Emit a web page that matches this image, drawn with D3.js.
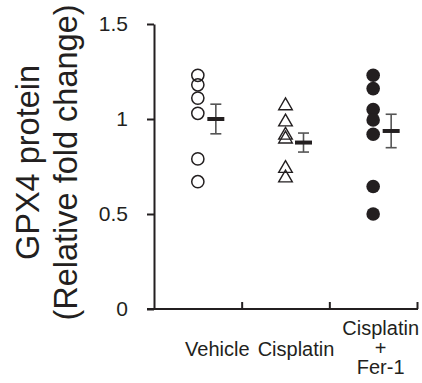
<!DOCTYPE html>
<html>
<head>
<meta charset="utf-8">
<script src="https://cdn.jsdelivr.net/npm/d3@7/dist/d3.min.js"></script>
<style>
  html, body { margin: 0; padding: 0; background: #fff; }
  svg { display: block; font-family: Arial, "Liberation Sans", Helvetica, sans-serif; }
</style>
</head>
<body>
<svg id="chart" width="422" height="383"></svg>
<script>
// ---- Data ----
const categories = ["Vehicle", "Cisplatin", "Cisplatin + Fer-1"];
const categoryLines = [["Vehicle"], ["Cisplatin"], ["Cisplatin", "+", "Fer-1"]];
const vehicleValues = [1.23, 1.18, 1.11, 1.03, 0.79, 0.67];
const cisplatinValues = [1.08, 0.995, 0.925, 0.905, 0.75, 0.70];
const ferValues = [1.23, 1.16, 1.05, 0.995, 0.92, 0.645, 0.50];
const groupMeans = [1.0, 0.876, 0.937];
const groupErrors = [0.078, 0.05, 0.088];
const yTicks = [0, 0.5, 1, 1.5];
const yTickLabels = ["0", "0.5", "1", "1.5"];
const yLabelLines = ["GPX4 protein", "(Relative fold change)"];

const seriesValues = [vehicleValues, cisplatinValues, ferValues];
const markerKinds = ["openCircle", "openTriangle", "filledCircle"];

// ---- Layout ----
const ink = "#231f20";
const mLeft = 154, mRight = 417, mTop = 24, mBottom = 309;
const svg = d3.select("#chart");

const x = d3.scaleBand().domain(categories).range([mLeft, mRight]).padding(0);
const xEdges = d3.scaleLinear().domain([0, categories.length]).range([mLeft, mRight]);
const y = d3.scaleLinear().domain([0, 1.5]).range([mBottom, mTop]);
const bw = x.bandwidth();
const meanShift = 18;
const labelShift = [19.5, 10.5, 7.5];

// Y axis
const yAxis = d3.axisLeft(y)
  .tickValues(yTicks)
  .tickFormat((d, i) => yTickLabels[i])
  .tickSize(7)
  .tickPadding(19)
  .tickSizeOuter(0);
const gy = svg.append("g").attr("transform", `translate(${mLeft},0)`).call(yAxis);
gy.select(".domain").attr("stroke", ink).attr("stroke-width", 2);
gy.selectAll(".tick line").attr("stroke", ink).attr("stroke-width", 2);
gy.selectAll(".tick text").attr("fill", ink).attr("font-size", 21)
  .attr("font-family", "Arial, 'Liberation Sans', sans-serif");

// X axis (ticks at band edges, pointing up)
const xAxis = d3.axisBottom(xEdges)
  .tickValues(d3.range(1, categories.length + 1))
  .tickSizeInner(-7)
  .tickSizeOuter(0)
  .tickFormat("");
const gx = svg.append("g").attr("transform", `translate(0,${mBottom})`).call(xAxis);
gx.select(".domain").attr("stroke", ink).attr("stroke-width", 2)
  .attr("d", `M${mLeft - 7},0H${mRight + 1}`);
gx.selectAll(".tick line").attr("stroke", ink).attr("stroke-width", 2);

// Category labels
categories.forEach((c, i) => {
  const lines = categoryLines[i];
  const cx = x(c) + bw / 2 + labelShift[i];
  const baseY = lines.length === 1 ? 356 : 335;
  const t = svg.append("text")
    .attr("text-anchor", "middle")
    .attr("font-size", 20)
    .attr("fill", ink);
  lines.forEach((ln, k) => {
    t.append("tspan").attr("x", cx).attr("y", baseY + k * 19.5).text(ln);
  });
});

// Y axis title
const yl = svg.append("text")
  .attr("transform", `translate(0,${(mTop + mBottom) / 2 - 4}) rotate(-90)`)
  .attr("text-anchor", "middle")
  .attr("font-size", 32.5)
  .attr("fill", ink);
yl.append("tspan").attr("x", 0).attr("y", 39).text(yLabelLines[0]);
yl.append("tspan").attr("x", 0).attr("y", 77).text(yLabelLines[1]);

// Triangle centred on its vertical midpoint
const triMid = {
  draw(ctx, size) {
    const s = Math.sqrt(size * 4 / Math.sqrt(3));
    const h = s * Math.sqrt(3) / 2;
    ctx.moveTo(0, -h / 2);
    ctx.lineTo(s / 2, h / 2);
    ctx.lineTo(-s / 2, h / 2);
    ctx.closePath();
  }
};

// Points
seriesValues.forEach((vals, i) => {
  const cx = x(categories[i]) + bw / 2;
  const g = svg.append("g");
  const kind = markerKinds[i];
  if (kind === "openTriangle") {
    g.selectAll("path").data(vals).join("path")
      .attr("d", d3.symbol().type(triMid).size(80))
      .attr("transform", d => `translate(${cx},${y(d)})`)
      .attr("fill", "none").attr("stroke", ink).attr("stroke-width", 1.4);
  } else {
    g.selectAll("circle").data(vals).join("circle")
      .attr("cx", cx).attr("cy", d => y(d))
      .attr("r", kind === "filledCircle" ? 6.8 : 6.1)
      .attr("fill", kind === "filledCircle" ? ink : "none")
      .attr("stroke", ink)
      .attr("stroke-width", kind === "filledCircle" ? 0 : 1.5);
  }
});

// Mean and error bars
categories.forEach((c, i) => {
  const mx = x(c) + bw / 2 + meanShift;
  const m = groupMeans[i], e = groupErrors[i];
  const g = svg.append("g");
  const errCol = "#555";
  g.append("line").attr("x1", mx).attr("x2", mx).attr("y1", y(m + e)).attr("y2", y(m - e))
    .attr("stroke", errCol).attr("stroke-width", 1.6);
  [m + e, m - e].forEach(v => {
    g.append("line").attr("x1", mx - 5.5).attr("x2", mx + 5.5).attr("y1", y(v)).attr("y2", y(v))
      .attr("stroke", errCol).attr("stroke-width", 1.6);
  });
  g.append("line").attr("x1", mx - 8.5).attr("x2", mx + 8.5).attr("y1", y(m)).attr("y2", y(m))
    .attr("stroke", ink).attr("stroke-width", 4);
});
</script>
</body>
</html>
